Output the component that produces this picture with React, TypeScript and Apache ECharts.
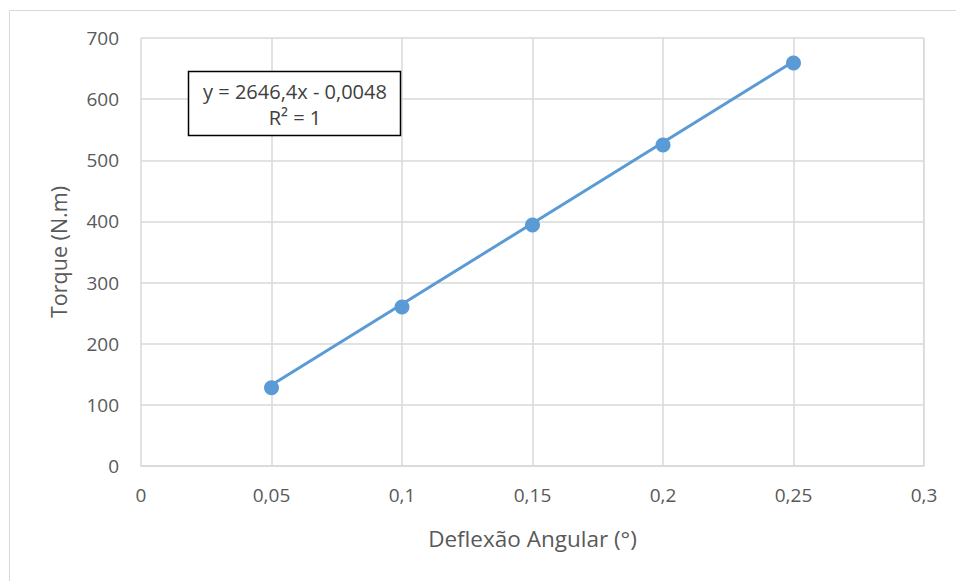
import React, { useEffect, useRef } from "react";
import * as echarts from "echarts";

const deflexao = [0.05, 0.1, 0.15, 0.2, 0.25];
const torque = [128, 260, 394, 525, 659];
const trendSlope = 2646.4;
const trendIntercept = -0.0048;
const equationLines = ["y = 2646,4x - 0,0048", "R² = 1"];

const fmt = (v: number) => String(v).replace(".", ",");

export default function App() {
  const ref = useRef<HTMLDivElement>(null);
  useEffect(() => {
    if (!ref.current) return;
    const chart = echarts.init(ref.current, null, { renderer: "svg" });
    const xMin = deflexao[0];
    const xMax = deflexao[deflexao.length - 1];
    const trend = [
      [xMin, trendSlope * xMin + trendIntercept],
      [xMax, trendSlope * xMax + trendIntercept],
    ];
    const font = "'Open Sans', 'Noto Sans', sans-serif";
    chart.setOption({
      animation: false,
      backgroundColor: "#ffffff",
      grid: { left: 141, top: 38, right: 32, bottom: 115, containLabel: false },
      xAxis: {
        type: "value",
        min: 0,
        max: 0.3,
        interval: 0.05,
        name: "Deflexão Angular (°)",
        nameLocation: "middle",
        nameGap: 61,
        nameTextStyle: { color: "#595959", fontSize: 22.5, fontFamily: font },
        axisLine: { show: true, lineStyle: { color: "#d9d9d9", width: 1.5 } },
        axisTick: { show: false },
        splitLine: { show: true, lineStyle: { color: "#d9d9d9", width: 1.5 } },
        axisLabel: {
          color: "#595959",
          fontSize: 19,
          fontFamily: font,
          margin: 19,
          formatter: (v: number) => fmt(Math.round(v * 100) / 100),
        },
      },
      yAxis: {
        type: "value",
        min: 0,
        max: 700,
        interval: 100,
        name: "Torque (N.m)",
        nameLocation: "middle",
        nameGap: 72,
        nameRotate: 90,
        nameTextStyle: { color: "#595959", fontSize: 21.5, fontFamily: font },
        axisLine: { show: false },
        axisTick: { show: false },
        splitLine: { show: true, lineStyle: { color: "#d9d9d9", width: 1.5 } },
        axisLabel: { color: "#595959", fontSize: 19, fontFamily: font, margin: 22 },
      },
      graphic: [
        {
          type: "rect",
          shape: { x: 9.5, y: 10.5, width: 1000, height: 700 },
          style: { fill: "none", stroke: "#d9d9d9", lineWidth: 1 },
          silent: true,
          z: -10,
        },
        {
          type: "rect",
          shape: { x: 923, y: 38, width: 1, height: 428 },
          style: { fill: "#d9d9d9" },
          silent: true,
        },
        {
          type: "rect",
          shape: { x: 188.5, y: 71.5, width: 212, height: 64 },
          style: { fill: "#ffffff", stroke: "#000000", lineWidth: 1.5 },
          z: 100,
        },
        {
          type: "text",
          x: 295,
          y: 91,
          style: {
            text: equationLines[0],
            fill: "#404040",
            fontSize: 20,
            fontFamily: font,
            textAlign: "center",
            textVerticalAlign: "middle",
          },
          z: 101,
        },
        {
          type: "text",
          x: 295,
          y: 117,
          style: {
            text: equationLines[1],
            fill: "#404040",
            fontSize: 20,
            fontFamily: font,
            textAlign: "center",
            textVerticalAlign: "middle",
          },
          z: 101,
        },
      ],
      series: [
        {
          type: "line",
          data: trend,
          symbol: "none",
          lineStyle: { color: "#5b9bd5", width: 3 },
          z: 3,
        },
        {
          type: "scatter",
          data: deflexao.map((x, i) => [x, torque[i]]),
          symbol: "circle",
          symbolSize: 15,
          itemStyle: { color: "#5b9bd5", opacity: 1 },
          z: 4,
        },
      ],
    });
    return () => chart.dispose();
  }, []);
  return (
    <div
      ref={ref}
      style={{ position: "absolute", left: 0, top: 0, width: 956, height: 581 }}
    />
  );
}
